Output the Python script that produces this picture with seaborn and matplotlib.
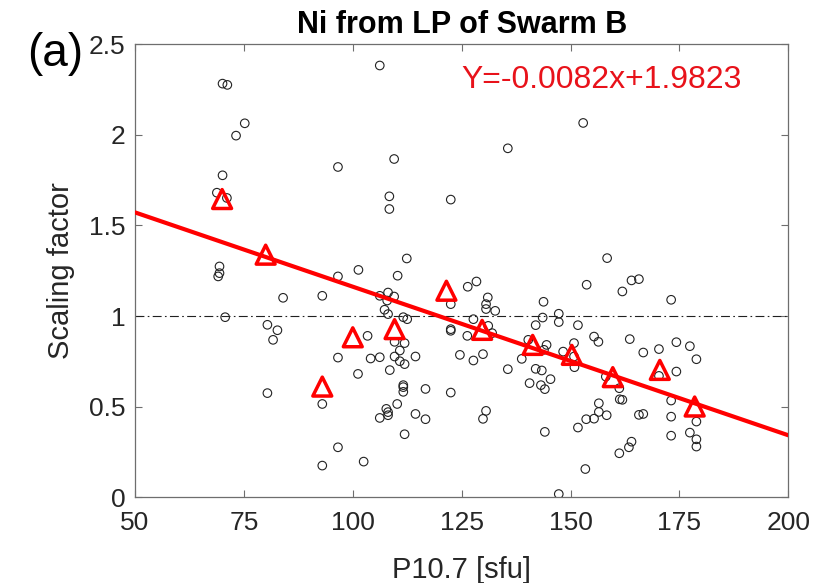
import matplotlib
matplotlib.use("Agg")
import matplotlib.pyplot as plt
import seaborn as sns
import pandas as pd
from matplotlib.ticker import FormatStrFormatter

# ---- data ----
f107 = [70.1, 71.2, 75.2, 73.2, 96.6, 70.1, 68.8, 71.1, 69.4, 101.3,
        69.4, 69.1, 96.6, 84.0, 93.0, 70.7, 80.4, 82.7, 81.7, 96.6,
        101.2, 80.4, 93.0, 96.6, 93.0, 102.5, 106.2, 109.5, 135.6, 108.4,
        108.4, 122.5, 112.4, 110.3, 106.2, 108.1, 109.5, 107.9, 107.3, 108.1,
        111.6, 112.5, 122.5, 126.4, 128.4, 131.0, 130.6, 130.6, 132.7, 127.7,
        143.8, 143.6, 147.3, 147.3, 142.0, 103.4, 109.6, 111.9, 110.8, 109.6,
        110.8, 111.9, 114.4, 108.5, 106.2, 104.1, 122.5, 122.5, 126.3, 131.1,
        132.0, 129.9, 124.6, 127.7, 135.6, 138.8, 140.3, 144.5, 143.9, 148.3,
        142.0, 143.4, 145.4, 140.6, 143.2, 144.1, 111.6, 111.6, 111.6, 116.7,
        122.5, 110.2, 107.7, 108.1, 108.1, 106.2, 114.4, 116.7, 111.9, 130.6,
        129.9, 144.1, 147.3, 152.9, 158.4, 153.7, 164.0, 165.7, 161.9, 173.1,
        151.7, 155.4, 156.4, 163.6, 174.3, 177.4, 170.3, 166.7, 178.9, 150.8,
        150.8, 150.9, 158.1, 161.2, 174.3, 170.3, 161.3, 161.9, 156.5, 156.5,
        158.3, 155.4, 153.6, 151.7, 165.7, 166.7, 173.1, 173.1, 173.1, 177.4,
        178.9, 178.9, 178.9, 164.0, 163.4, 161.2, 153.4]
scaling = [2.283, 2.276, 2.064, 1.996, 1.823, 1.777, 1.681, 1.652, 1.274, 1.255,
           1.237, 1.219, 1.219, 1.101, 1.112, 0.994, 0.952, 0.922, 0.869, 0.771,
           0.681, 0.575, 0.515, 0.276, 0.175, 0.197, 2.383, 1.867, 1.926, 1.661,
           1.591, 1.643, 1.318, 1.223, 1.112, 1.130, 1.108, 1.086, 1.035, 1.011,
           0.994, 0.983, 1.066, 1.162, 1.191, 1.103, 1.066, 1.039, 1.029, 0.983,
           1.079, 0.992, 1.013, 0.967, 0.950, 0.891, 0.858, 0.851, 0.810, 0.777,
           0.751, 0.735, 0.777, 0.702, 0.773, 0.766, 0.928, 0.919, 0.891, 0.946,
           0.906, 0.790, 0.786, 0.755, 0.707, 0.764, 0.869, 0.841, 0.814, 0.804,
           0.709, 0.700, 0.652, 0.630, 0.619, 0.597, 0.619, 0.608, 0.582, 0.598,
           0.578, 0.515, 0.488, 0.470, 0.453, 0.438, 0.460, 0.431, 0.348, 0.477,
           0.433, 0.361, 0.018, 2.066, 1.320, 1.173, 1.197, 1.204, 1.136, 1.090,
           0.950, 0.887, 0.858, 0.873, 0.856, 0.834, 0.818, 0.799, 0.762, 0.851,
           0.777, 0.718, 0.666, 0.602, 0.694, 0.670, 0.541, 0.538, 0.519, 0.471,
           0.453, 0.434, 0.431, 0.385, 0.455, 0.460, 0.534, 0.445, 0.340, 0.357,
           0.418, 0.320, 0.280, 0.307, 0.276, 0.243, 0.156]

bin_f107 = [70.0, 80.0, 93.0, 100.0, 109.6, 121.5, 129.7, 141.3, 150.3, 159.7, 170.5, 178.5]
bin_scaling = [1.646, 1.339, 0.611, 0.883, 0.928, 1.140, 0.924, 0.841, 0.786, 0.663, 0.703, 0.501]

fit_slope = -0.0082
fit_intercept = 1.9823
fit_x = [50, 200]

x_ticks = [50, 75, 100, 125, 150, 175, 200]
y_ticks = [0, 0.5, 1, 1.5, 2, 2.5]

title = "Ni from LP of Swarm B"
equation = "Y=-0.0082x+1.9823"
xlabel = "P10.7 [sfu]"
ylabel = "Scaling factor"

# ---- styling ----
sns.set_style("ticks")
plt.rcParams["font.family"] = ["Liberation Sans", "DejaVu Sans"]
text_col = "#262626"
spine_col = "#6e6e6e"

fig = plt.figure(figsize=(8.33, 5.83), dpi=100)
W, H = 833, 583
ax_left, ax_right, ax_top, ax_bottom = 135, 788.3, 44.3, 497.3
ax = fig.add_axes([ax_left / W, 1 - ax_bottom / H,
                   (ax_right - ax_left) / W, (ax_bottom - ax_top) / H])

pts = pd.DataFrame({"f107": f107, "scaling": scaling})
bins = pd.DataFrame({"f107": bin_f107, "scaling": bin_scaling})
fit = pd.DataFrame({"f107": fit_x,
                    "scaling": [fit_slope * v + fit_intercept for v in fit_x]})

# reference line at 1
ax.axhline(1.0, color="#202020", lw=0.8, ls=(0, (8, 3, 1.5, 3)), zorder=1)

sns.scatterplot(data=pts, x="f107", y="scaling", ax=ax, marker="o", s=38,
                facecolors="none", edgecolors="#222222", linewidth=0.8, zorder=2)
sns.lineplot(data=fit, x="f107", y="scaling", ax=ax, color="#ff0000", lw=3.0,
             zorder=3)
sns.scatterplot(data=bins, x="f107", y="scaling", ax=ax, marker="^", s=185,
                facecolors="none", edgecolors="#ff0000", linewidth=2.5, zorder=4)

ax.set_xlim(50, 200)
ax.set_ylim(0, 2.5)
ax.set_xticks(x_ticks)
ax.set_yticks(y_ticks)
ax.yaxis.set_major_formatter(FormatStrFormatter("%g"))
ax.tick_params(direction="in", top=True, right=True, length=5, width=0.8,
               color=spine_col, labelcolor=text_col, labelsize=19)
ax.tick_params(axis="x", pad=10)
ax.tick_params(axis="y", pad=7)
for sp in ax.spines.values():
    sp.set_visible(True)
    sp.set_color(spine_col)
    sp.set_linewidth(0.9)

ax.set_xlabel(xlabel, fontsize=21, color=text_col)
ax.set_ylabel(ylabel, fontsize=21, color=text_col)
ax.xaxis.set_label_coords(0.5, -0.13)
ax.yaxis.set_label_coords(-0.092, 0.5)
ax.set_title(title, fontsize=22, fontweight="bold", color="black", pad=8)

ax.text(125, 2.305, equation, color="#e8121a", fontsize=23, ha="left", va="center")
fig.text(27 / W, 1 - 66 / H, "(a)", fontsize=33, color="black",
         ha="left", va="baseline")

fig.savefig("out.png", dpi=100)
